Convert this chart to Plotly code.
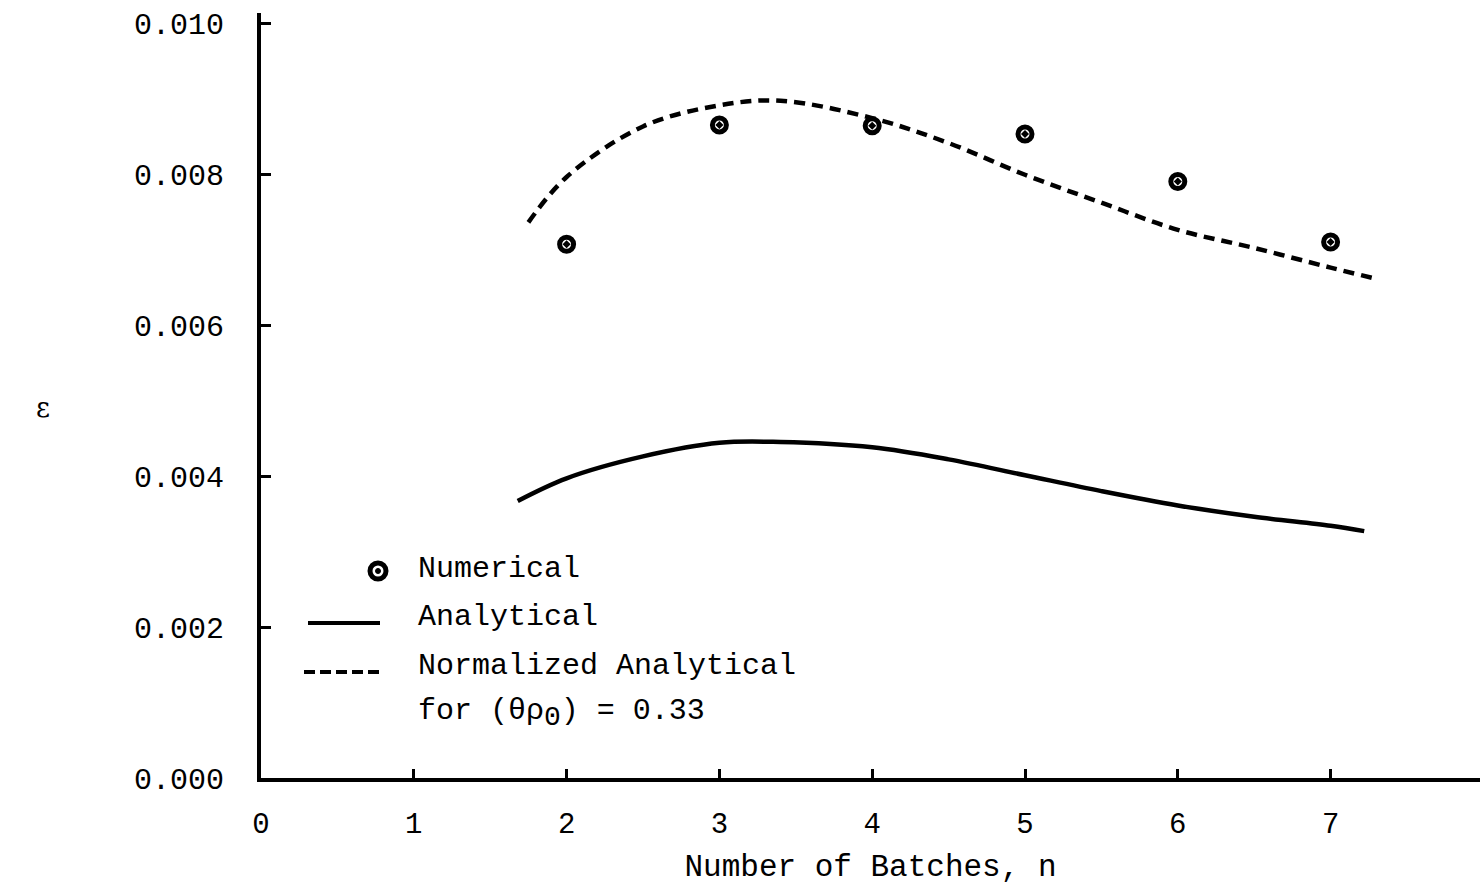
import plotly.graph_objects as go

# ---- data ----
n_numerical = [2, 3, 4, 5, 6, 7]
eps_numerical = [0.00707, 0.00865, 0.00864, 0.00853, 0.00790, 0.00710]

n_analytical = [1.68, 2.0, 2.5, 3.0, 3.4, 4.0, 4.5, 5.0, 5.5, 6.0, 6.5, 7.0, 7.22]
eps_analytical = [0.00367, 0.00397, 0.00426, 0.00444, 0.00445, 0.00438, 0.00422,
                  0.00401, 0.00380, 0.00361, 0.00346, 0.00334, 0.00327]

n_normalized = [1.75, 2.0, 2.5, 3.0, 3.4, 4.0, 4.5, 5.0, 5.5, 6.0, 6.5, 7.0, 7.28]
eps_normalized = [0.00736, 0.00796, 0.00863, 0.00891, 0.00897, 0.00874, 0.00841,
                  0.00799, 0.00762, 0.00726, 0.00702, 0.00676, 0.00662]

x_ticks = [0, 1, 2, 3, 4, 5, 6, 7]
y_ticks = [0.000, 0.002, 0.004, 0.006, 0.008, 0.010]
y_tick_labels = ["0.000", "0.002", "0.004", "0.006", "0.008", "0.010"]

MONO = "Liberation Mono, DejaVu Sans Mono, monospace"

fig = go.Figure()
fig.add_trace(go.Scatter(x=n_analytical, y=eps_analytical, mode="lines",
                         line=dict(color="black", width=4.5, shape="spline"),
                         name="Analytical", showlegend=False))
fig.add_trace(go.Scatter(x=n_normalized, y=eps_normalized, mode="lines",
                         line=dict(color="black", width=4.5, shape="spline", dash="11px,7px"),
                         name="Normalized Analytical", showlegend=False))
fig.add_trace(go.Scatter(x=n_numerical, y=eps_numerical, mode="markers",
                         marker=dict(symbol="circle-open-dot", size=14, color="black",
                                     line=dict(color="black", width=5)),
                         name="Numerical", showlegend=False))

W, H = 1480, 885
L, R, T, B = 261, 0, 13, 107
pw, ph = W - L - R, H - T - B


def px(x):
    return (x - L) / pw


def py(y):
    return (H - B - y) / ph


shapes = [
    # legend: numerical marker (ring + dot)
    dict(type="circle", xref="paper", yref="paper",
         x0=px(370), x1=px(386), y0=py(579), y1=py(563),
         line=dict(color="black", width=5), fillcolor="rgba(0,0,0,0)"),
    dict(type="circle", xref="paper", yref="paper",
         x0=px(375.5), x1=px(380.5), y0=py(573.5), y1=py(568.5),
         line=dict(color="black", width=1), fillcolor="black"),
    # legend: solid line
    dict(type="line", xref="paper", yref="paper",
         x0=px(308), x1=px(380), y0=py(623), y1=py(623),
         line=dict(color="black", width=4)),
    # legend: dashed line
    dict(type="line", xref="paper", yref="paper",
         x0=px(304), x1=px(383), y0=py(672), y1=py(672),
         line=dict(color="black", width=4, dash="11px,5px")),
]

annotations = [
    dict(text="Numerical", x=px(416), y=py(569), xref="paper", yref="paper",
         xanchor="left", yanchor="middle", showarrow=False,
         font=dict(family=MONO, size=30, color="black")),
    dict(text="Analytical", x=px(416), y=py(617), xref="paper", yref="paper",
         xanchor="left", yanchor="middle", showarrow=False,
         font=dict(family=MONO, size=30, color="black")),
    dict(text="Normalized Analytical", x=px(416), y=py(666), xref="paper", yref="paper",
         xanchor="left", yanchor="middle", showarrow=False,
         font=dict(family=MONO, size=30, color="black")),
    dict(text="for (θρ<sub><span style='font-size:28px'>0</span></sub>) = 0.33",
         x=px(416), y=py(692), xref="paper", yref="paper",
         xanchor="left", yanchor="top", showarrow=False,
         font=dict(family=MONO, size=30, color="black")),
    dict(text="ε", x=px(43), y=py(408), xref="paper", yref="paper",
         xanchor="center", yanchor="middle", showarrow=False,
         font=dict(family="DejaVu Serif, serif", size=27, color="black")),
]

fig.update_layout(
    width=W, height=H,
    margin=dict(l=L, r=R, t=T, b=B, pad=0),
    paper_bgcolor="white", plot_bgcolor="white",
    showlegend=False,
    shapes=shapes,
    annotations=annotations,
    xaxis=dict(range=[0, pw / 152.8], tickvals=x_ticks, ticktext=[str(v) for v in x_ticks],
               showgrid=False, zeroline=False, showline=True, linecolor="black", linewidth=4,
               ticks="inside", ticklen=9, tickwidth=3, tickcolor="black",
               tickfont=dict(family=MONO, size=29, color="black"),
               ticklabelstandoff=16,
               title=dict(text="Number of Batches, n", standoff=16,
                          font=dict(family=MONO, size=31, color="black"))),
    yaxis=dict(range=[0, ph / 75500.0], tickvals=y_ticks, ticktext=y_tick_labels,
               showgrid=False, zeroline=False, showline=True, linecolor="black", linewidth=4,
               ticks="inside", ticklen=10, tickwidth=3, tickcolor="black",
               tickfont=dict(family=MONO, size=30, color="black"),
               ticklabelstandoff=27),
)

fig.write_html("out.html")
